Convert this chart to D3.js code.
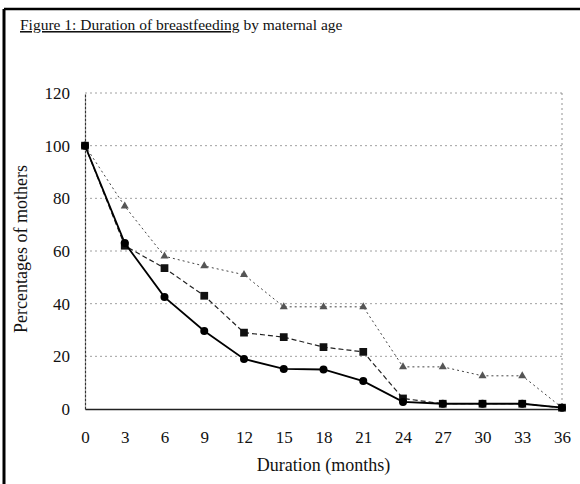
<!DOCTYPE html>
<html>
<head>
<meta charset="utf-8">
<script src="https://cdn.jsdelivr.net/npm/d3@7"></script>
<style>
  body { margin: 0; background: #fff; }
  svg text { font-family: "Liberation Serif", "Times New Roman", serif; fill: #111; }
</style>
</head>
<body>
<script>
    // data
    var months = [0, 3, 6, 9, 12, 15, 18, 21, 24, 27, 30, 33, 36];
    var circleSeries = [100, 63, 42.5, 29.6, 19, 15.2, 15, 10.6, 2.7, 2, 2, 2, 0.5];
    var squareSeries = [100, 62, 53.5, 43, 29, 27.3, 23.5, 21.7, 4, 2, 2, 2, 0.5];
    var triangleSeries = [100, 77, 58, 54.3, 51, 38.8, 38.8, 38.8, 16, 16, 12.6, 12.6, 0.5];
    var yTicks = [0, 20, 40, 60, 80, 100, 120];
    var xTicks = months;

    var width = 580, height = 484;
    var margin = {top: 93, right: 18, bottom: 75, left: 85};

    var svg = d3.select("body").append("svg")
      .attr("width", width)
      .attr("height", height);

    // frame (top and left edges of the scanned box)
    svg.append("line").attr("x1", 4).attr("x2", 580).attr("y1", 9).attr("y2", 9)
      .attr("stroke", "#000").attr("stroke-width", 2.5);
    svg.append("line").attr("x1", 4).attr("x2", 4).attr("y1", 9).attr("y2", 484)
      .attr("stroke", "#000").attr("stroke-width", 3);

    // title
    var title = svg.append("text")
      .attr("x", 20).attr("y", 30)
      .style("font-size", "15.5px");
    title.append("tspan").attr("text-decoration", "underline")
      .text("Figure 1: Duration of breastfeeding");
    title.append("tspan").text(" by maternal age");

    var x = d3.scaleLinear().domain([0, 36]).range([margin.left, width - margin.right - 0]);
    var y = d3.scaleLinear().domain([0, 120]).range([height - margin.bottom, margin.top]);

    // gridlines
    svg.append("g")
      .selectAll("line")
      .data(yTicks.filter(function(d) { return d > 0; }))
      .enter().append("line")
      .attr("x1", x(0)).attr("x2", x(36))
      .attr("y1", function(d) { return y(d); })
      .attr("y2", function(d) { return y(d); })
      .attr("stroke", "#888")
      .attr("stroke-width", 0.8)
      .attr("stroke-dasharray", "2,3");

    // right border of plot area
    svg.append("line")
      .attr("x1", x(36)).attr("x2", x(36))
      .attr("y1", y(120)).attr("y2", y(0))
      .attr("stroke", "#777").attr("stroke-width", 0.8)
      .attr("stroke-dasharray", "2,3");

    // axes
    var yAxis = svg.append("g")
      .attr("transform", "translate(" + x(0) + ",0)")
      .call(d3.axisLeft(y).tickValues(yTicks).tickSize(0).tickPadding(15));
    yAxis.select(".domain").attr("stroke", "#333").attr("stroke-width", 1.2).attr("stroke-dasharray", "3,1");
    yAxis.selectAll("text").style("font-size", "17px");

    var xAxis = svg.append("g")
      .attr("transform", "translate(0," + y(0) + ")")
      .call(d3.axisBottom(x).tickValues(xTicks).tickSize(0).tickPadding(22));
    xAxis.select(".domain").attr("stroke", "#222").attr("stroke-width", 1.5);
    xAxis.selectAll("text").style("font-size", "17px");

    // axis labels
    svg.append("text")
      .attr("transform", "translate(27," + (y(60) - 2) + ") rotate(-90)")
      .attr("text-anchor", "middle")
      .style("font-size", "18px")
      .text("Percentages of mothers");

    svg.append("text")
      .attr("x", (x(0) + x(36)) / 2)
      .attr("y", 471)
      .attr("text-anchor", "middle")
      .style("font-size", "18px")
      .text("Duration (months)");

    function rows(vals) {
      return months.map(function(m, i) { return {m: m, v: vals[i]}; });
    }

    var line = d3.line()
      .x(function(d) { return x(d.m); })
      .y(function(d) { return y(d.v); });

    // triangle series, dotted
    svg.append("path")
      .datum(rows(triangleSeries))
      .attr("fill", "none")
      .attr("stroke", "#444")
      .attr("stroke-width", 1)
      .attr("stroke-dasharray", "2,3")
      .attr("d", line);
    svg.append("g").selectAll("path")
      .data(rows(triangleSeries))
      .enter().append("path")
      .attr("transform", function(d) { return "translate(" + x(d.m) + "," + y(d.v) + ")"; })
      .attr("d", d3.symbol().type(d3.symbolTriangle).size(28))
      .attr("fill", "#555");

    // square series, dashed
    svg.append("path")
      .datum(rows(squareSeries))
      .attr("fill", "none")
      .attr("stroke", "#222")
      .attr("stroke-width", 1.2)
      .attr("stroke-dasharray", "5,3")
      .attr("d", line);
    svg.append("g").selectAll("path")
      .data(rows(squareSeries))
      .enter().append("path")
      .attr("transform", function(d) { return "translate(" + x(d.m) + "," + y(d.v) + ")"; })
      .attr("d", d3.symbol().type(d3.symbolSquare).size(60))
      .attr("fill", "#111");

    // circle series, solid
    svg.append("path")
      .datum(rows(circleSeries))
      .attr("fill", "none")
      .attr("stroke", "#000")
      .attr("stroke-width", 1.8)
      .attr("d", line);
    svg.append("g").selectAll("circle")
      .data(rows(circleSeries))
      .enter().append("circle")
      .attr("cx", function(d) { return x(d.m); })
      .attr("cy", function(d) { return y(d.v); })
      .attr("r", 4)
      .attr("fill", "#000");
</script>
</body>
</html>
